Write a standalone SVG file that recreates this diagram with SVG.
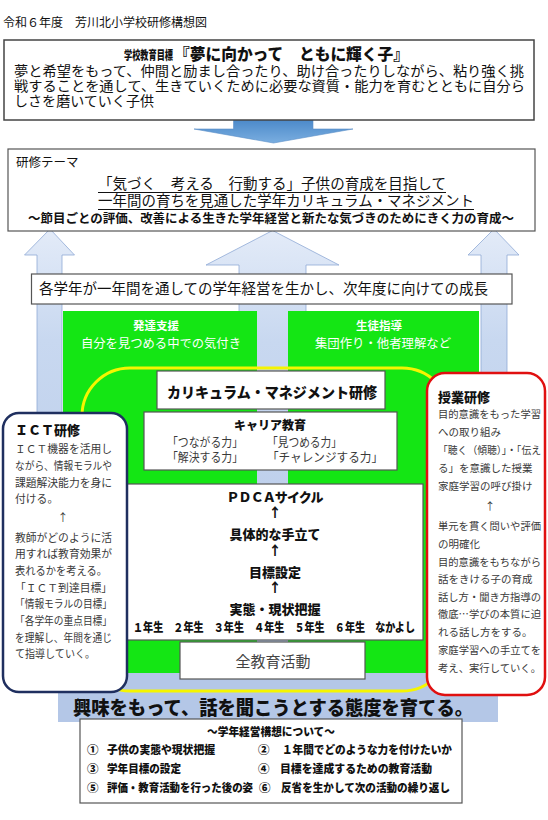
<svg xmlns="http://www.w3.org/2000/svg" width="548" height="820" viewBox="0 0 548 820">
<defs>
<linearGradient id="gDown" x1="0" y1="0" x2="0" y2="1"><stop offset="0" stop-color="#4a88c9"/><stop offset="1" stop-color="#7aaee0"/></linearGradient>
<linearGradient id="gUp" x1="0" y1="0" x2="0" y2="1"><stop offset="0" stop-color="#e3ebf8"/><stop offset="0.25" stop-color="#c8d8f0"/><stop offset="1" stop-color="#b4c7e7"/></linearGradient>
<style>
text{font-family:"Noto Sans CJK JP","Noto Sans CJK SC",sans-serif;fill:#111}
.b{font-weight:700}
.box{fill:#fff;stroke:#555;stroke-width:1.2}
.up{fill:url(#gUp);stroke:#8fa9d6;stroke-width:0.8}
.wt{fill:#fff}
.gr{fill:#3a3a3a}
.ict{font-size:10.8px;fill:#3a3a3a}
.jug{font-size:10.5px;fill:#3a3a3a}
.pd{font-size:13px;font-weight:900;text-anchor:middle}
.bt{font-size:11.5px;font-weight:900}
</style>
</defs>
<rect width="548" height="820" fill="#fff"/>
<text x="3" y="27" style="font-size:12px">令和６年度　芳川北小学校研修構想図</text>

<g id="connectors">
<polygon points="233.5,119 313,119 313,129 353,129 273.5,143 194,129 233.5,129" fill="url(#gDown)" stroke="#5a8fc8" stroke-width="0.6"/>
<polygon class="up" points="50,229 74.5,255 62,255 62,673 37,673 37,255 24.5,255"/>
<polygon class="up" points="272.6,230.5 339,265 306,265 306,673 239,673 239,265 206,265"/>
<polygon class="up" points="494,229 519,255 507,255 507,673 481,673 481,255 468,255"/>
</g>

<g id="goal">
<rect class="box" x="4" y="40" width="530" height="80" style="stroke:#444;stroke-width:1.5"/>
<text x="124" y="60" style="font-size:12px;font-weight:900" textLength="49" lengthAdjust="spacingAndGlyphs">学校教育目標</text>
<text x="174" y="60" style="font-size:16px;font-weight:900" textLength="235" lengthAdjust="spacingAndGlyphs">『夢に向かって　ともに輝く子』</text>
<text x="14" y="75.5" style="font-size:14.2px" textLength="510" lengthAdjust="spacingAndGlyphs">夢と希望をもって、仲間と励まし合ったり、助け合ったりしながら、粘り強く挑</text>
<text x="14" y="90.5" style="font-size:14.2px" textLength="511" lengthAdjust="spacingAndGlyphs">戦することを通して、生きていくために必要な資質・能力を育むとともに自分ら</text>
<text x="14" y="105.5" style="font-size:14.2px" textLength="140" lengthAdjust="spacingAndGlyphs">しさを磨いていく子供</text>
</g>

<g id="theme">
<rect class="box" x="8" y="149" width="527" height="82"/>
<text x="16" y="167" style="font-size:12.5px">研修テーマ</text>
<text x="98" y="189" style="font-size:14.5px" textLength="348" lengthAdjust="spacingAndGlyphs">「気づく　考える　行動する」子供の育成を目指して</text>
<line x1="98" y1="192.5" x2="446" y2="192.5" stroke="#111" stroke-width="1"/>
<text x="98" y="206" style="font-size:14.5px" textLength="376" lengthAdjust="spacingAndGlyphs">一年間の育ちを見通した学年カリキュラム・マネジメント</text>
<line x1="98" y1="209.5" x2="474" y2="209.5" stroke="#111" stroke-width="1"/>
<text class="b" x="28" y="223" style="font-size:12.3px" textLength="486" lengthAdjust="spacingAndGlyphs">～節目ごとの評価、改善による生きた学年経営と新たな気づきのためにきく力の育成～</text>
</g>

<g id="growth">
<rect class="box" x="31.5" y="274" width="480.5" height="30"/>
<text x="39" y="294" style="font-size:14.5px" textLength="449" lengthAdjust="spacingAndGlyphs">各学年が一年間を通しての学年経営を生かし、次年度に向けての成長</text>
</g>

<g id="band">
<rect x="58" y="662" width="440" height="60" fill="#b4c7e7"/>
<text x="73" y="715" style="font-size:19px;font-weight:900" textLength="400" lengthAdjust="spacingAndGlyphs">興味をもって、話を聞こうとする態度を育てる。</text>
</g>

<g id="hattatsu">
<rect x="63" y="311" width="194" height="362" fill="#14e614"/>
<text class="b wt" x="156" y="330" text-anchor="middle" style="font-size:11.5px">発達支援</text>
<text class="wt" x="161" y="348" text-anchor="middle" style="font-size:12.3px" textLength="160" lengthAdjust="spacingAndGlyphs">自分を見つめる中での気付き</text>
</g>
<g id="seito">
<rect x="288" y="311" width="191" height="362" fill="#14e614"/>
<text class="b wt" x="379" y="330" text-anchor="middle" style="font-size:11.5px">生徒指導</text>
<text class="wt" x="383" y="348" text-anchor="middle" style="font-size:12.4px" textLength="136" lengthAdjust="spacingAndGlyphs">集団作り・他者理解など</text>
</g>

<rect id="yellow" x="82" y="368" width="368" height="323" rx="48" fill="none" stroke="#f5f500" stroke-width="3"/>

<g id="curriculum">
<rect class="box" x="157" y="371" width="228" height="38"/>
<text x="272" y="398" text-anchor="middle" style="font-size:14.5px;font-weight:900" textLength="210" lengthAdjust="spacingAndGlyphs">カリキュラム・マネジメント研修</text>
</g>

<g id="career">
<rect class="box" x="144" y="412" width="253" height="58"/>
<text x="270" y="430" text-anchor="middle" style="font-size:12px;font-weight:900">キャリア教育</text>
<text class="gr" x="167" y="447" style="font-size:12.5px" textLength="76" lengthAdjust="spacingAndGlyphs">「つながる力」</text>
<text class="gr" x="267" y="447" style="font-size:12.5px" textLength="75" lengthAdjust="spacingAndGlyphs">「見つめる力」</text>
<text class="gr" x="167" y="462" style="font-size:12.5px" textLength="76" lengthAdjust="spacingAndGlyphs">「解決する力」</text>
<text class="gr" x="267" y="462" style="font-size:12.5px" textLength="116" lengthAdjust="spacingAndGlyphs">「チャレンジする力」</text>
</g>

<g id="pdca">
<rect class="box" x="127" y="484" width="296" height="156"/>
<text class="pd" x="275" y="502" textLength="97" lengthAdjust="spacing">ＰＤＣＡサイクル</text>
<text class="pd" x="275" y="517">↑</text>
<text class="pd" x="275" y="539">具体的な手立て</text>
<text class="pd" x="275" y="555">↑</text>
<text class="pd" x="275" y="577">目標設定</text>
<text class="pd" x="275" y="592">↑</text>
<text class="pd" x="275" y="614">実態・現状把握</text>
<text x="133" y="632" style="font-size:12px;font-weight:900" textLength="282" lengthAdjust="spacingAndGlyphs">１年生　２年生　３年生　４年生　５年生　６年生　なかよし</text>
</g>

<g id="zenkyouiku">
<rect class="box" x="180" y="642" width="185" height="37"/>
<text x="273" y="667" text-anchor="middle" style="font-size:15px;fill:#444">全教育活動</text>
</g>

<g id="ict">
<rect x="3" y="413" width="124" height="279" rx="16" fill="#fff" stroke="#1f2f5f" stroke-width="2.5"/>
<text x="15" y="435" style="font-size:13px;font-weight:900">ＩＣＴ研修</text>
<text class="ict" x="15" y="453" textLength="97" lengthAdjust="spacingAndGlyphs">ＩＣＴ機器を活用し</text>
<text class="ict" x="15" y="470" textLength="97" lengthAdjust="spacingAndGlyphs">ながら、情報モラルや</text>
<text class="ict" x="15" y="487" textLength="97" lengthAdjust="spacingAndGlyphs">課題解決能力を身に</text>
<text class="ict" x="15" y="503">付ける。</text>
<text class="ict" x="63" y="522" text-anchor="middle">↑</text>
<text class="ict" x="15" y="542" textLength="97" lengthAdjust="spacingAndGlyphs">教師がどのように活</text>
<text class="ict" x="15" y="558" textLength="97" lengthAdjust="spacingAndGlyphs">用すれば教育効果が</text>
<text class="ict" x="15" y="575" textLength="92" lengthAdjust="spacingAndGlyphs">表れるかを考える。</text>
<text class="ict" x="15" y="592" textLength="97" lengthAdjust="spacingAndGlyphs">「ＩＣＴ到達目標」</text>
<text class="ict" x="15" y="608" textLength="97" lengthAdjust="spacingAndGlyphs">「情報モラルの目標」</text>
<text class="ict" x="15" y="625" textLength="97" lengthAdjust="spacingAndGlyphs">「各学年の重点目標」</text>
<text class="ict" x="15" y="642" textLength="97" lengthAdjust="spacingAndGlyphs">を理解し、年間を通じ</text>
<text class="ict" x="15" y="658" textLength="80" lengthAdjust="spacingAndGlyphs">て指導していく。</text>
</g>

<g id="jugyo">
<rect x="427" y="373" width="118" height="322" rx="18" fill="#fff" stroke="#e01010" stroke-width="2.5"/>
<text x="438" y="402" style="font-size:13px;font-weight:900">授業研修</text>
<text class="jug" x="438" y="418" textLength="103" lengthAdjust="spacingAndGlyphs">目的意識をもった学習</text>
<text class="jug" x="438" y="436">への取り組み</text>
<text class="jug" x="438" y="454" textLength="103" lengthAdjust="spacingAndGlyphs">「聴く（傾聴）」・「伝え</text>
<text class="jug" x="438" y="472">る」を意識した授業</text>
<text class="jug" x="438" y="490">家庭学習の呼び掛け</text>
<text class="jug" x="490" y="510" text-anchor="middle">↑</text>
<text class="jug" x="438" y="530" textLength="103" lengthAdjust="spacingAndGlyphs">単元を貫く問いや評価</text>
<text class="jug" x="438" y="548">の明確化</text>
<text class="jug" x="438" y="566" textLength="103" lengthAdjust="spacingAndGlyphs">目的意識をもちながら</text>
<text class="jug" x="438" y="583">話をきける子の育成</text>
<text class="jug" x="438" y="601" textLength="103" lengthAdjust="spacingAndGlyphs">話し方・聞き方指導の</text>
<text class="jug" x="438" y="618" textLength="103" lengthAdjust="spacingAndGlyphs">徹底…学びの本質に迫</text>
<text class="jug" x="438" y="636">れる話し方をする。</text>
<text class="jug" x="438" y="654" textLength="103" lengthAdjust="spacingAndGlyphs">家庭学習への手立てを</text>
<text class="jug" x="438" y="672" textLength="103" lengthAdjust="spacingAndGlyphs">考え、実行していく。</text>
</g>

<g id="keiei">
<rect class="box" x="80" y="719" width="382" height="84"/>
<text class="bt" x="207" y="736" textLength="128" lengthAdjust="spacingAndGlyphs">～学年経営構想について～</text>
<text class="bt" x="87" y="754">①</text>
<text class="bt" x="107" y="754" textLength="108" lengthAdjust="spacingAndGlyphs">子供の実態や現状把握</text>
<text class="bt" x="258" y="754">②</text>
<text class="bt" x="282" y="754" textLength="170" lengthAdjust="spacingAndGlyphs">１年間でどのような力を付けたいか</text>
<text class="bt" x="87" y="773">③</text>
<text class="bt" x="107" y="773" textLength="74" lengthAdjust="spacingAndGlyphs">学年目標の設定</text>
<text class="bt" x="258" y="773">④</text>
<text class="bt" x="280" y="773" textLength="152" lengthAdjust="spacingAndGlyphs">目標を達成するための教育活動</text>
<text class="bt" x="87" y="792">⑤</text>
<text class="bt" x="107" y="792" textLength="146" lengthAdjust="spacingAndGlyphs">評価・教育活動を行った後の姿</text>
<text class="bt" x="259" y="792">⑥</text>
<text class="bt" x="281" y="792" textLength="169" lengthAdjust="spacingAndGlyphs">反省を生かして次の活動の繰り返し</text>
</g>
</svg>
